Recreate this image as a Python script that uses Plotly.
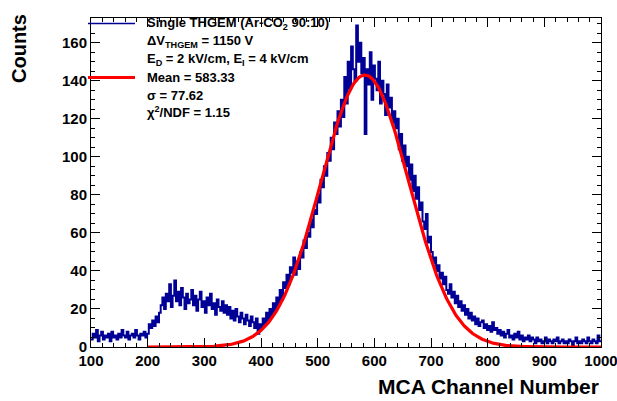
import plotly.graph_objects as go
import numpy as np

# ---- data ----
bin_start = 100
bin_width = 3
counts = [
    4, 7, 5, 9, 3, 6, 8, 4, 6, 5, 7, 3, 8, 5, 6, 4, 7, 5, 9, 6,
    5, 8, 4, 6, 7, 5, 9, 6, 4, 7, 6, 8, 5, 7, 12, 10, 14, 11, 16, 13,
    18, 22, 26, 20, 28, 24, 33, 21, 27, 35, 24, 29, 22, 31, 26, 20, 28, 23, 25, 30,
    22, 27, 19, 25, 29, 21, 24, 18, 26, 22, 28, 20, 23, 17, 25, 21, 19, 24, 18, 22,
    17, 21, 15, 19, 14, 20, 16, 13, 18, 15, 12, 17, 14, 11, 16, 13, 10, 15, 7, 12,
    10, 15, 12, 18, 14, 20, 16, 23, 19, 26, 22, 30, 25, 34, 31, 38, 33, 42, 39, 47,
    38, 45, 41, 50, 47, 56, 52, 60, 58, 67, 63, 72, 70, 80, 76, 88, 84, 95, 90, 102,
    98, 110, 104, 118, 112, 124, 116, 130, 121, 142, 128, 150, 136, 158, 146, 140, 169, 150, 160, 144,
    152, 112, 146, 138, 155, 130, 148, 141, 135, 150, 128, 140, 133, 122, 138, 126, 131, 118, 124, 115,
    120, 104, 112, 98, 106, 95, 100, 88, 96, 82, 90, 78, 84, 72, 76, 66, 62, 70, 55, 58,
    50, 44, 47, 40, 43, 36, 39, 33, 37, 30, 28, 33, 26, 29, 23, 27, 21, 24, 19, 22,
    17, 20, 15, 18, 14, 16, 12, 15, 11, 13, 14, 10, 12, 9, 11, 8, 13, 9, 10, 7,
    9, 6, 8, 5, 7, 9, 5, 6, 4, 7, 5, 8, 4, 6, 3, 5, 4, 6, 3, 5,
    4, 2, 5, 3, 4, 2, 3, 5, 2, 4, 3, 2, 4, 3, 5, 2, 3, 4, 2, 3,
    2, 4, 3, 1, 3, 5, 2, 3, 2, 4, 3, 2, 5, 3, 2, 4, 3, 2, 6, 3,
]
fit_mean = 583.33
fit_sigma = 77.62
fit_amp = 143.0
fit_range = [200, 1000]

legend_data_lines = [
    "Single THGEM (Ar-CO<sub>2</sub> 90:10)",
    "ΔV<sub>THGEM</sub> = 1150 V",
    "E<sub>D</sub> = 2 kV/cm, E<sub>I</sub> = 4 kV/cm",
]
legend_fit_lines = [
    "Mean = 583.33",
    "σ = 77.62",
    "χ<sup>2</sup>/NDF = 1.15",
]

# ---- build ----
edges = [bin_start + i * bin_width for i in range(len(counts) + 1)]
hx = edges
hy = counts + [counts[-1]]

fx = np.linspace(fit_range[0], fit_range[1], 400)
fy = fit_amp * np.exp(-0.5 * ((fx - fit_mean) / fit_sigma) ** 2)

BLUE = "rgb(0,0,150)"
FONT = "Liberation Sans"

fig = go.Figure()
fig.add_trace(go.Scatter(x=hx, y=hy, mode="lines", line=dict(color=BLUE, width=2, shape="hv"),
                         showlegend=False, hoverinfo="skip"))
fig.add_trace(go.Scatter(x=fx, y=fy, mode="lines", line=dict(color="red", width=3.2),
                         showlegend=False, hoverinfo="skip"))

L, R, T, B = 91, 16, 18, 54
W, H = 617, 401
pw, ph = W - L - R, H - T - B

def px2x(p):
    return (p - L) / pw

def py2y(p):
    return (H - B - p) / ph

axis_common = dict(showline=True, linecolor="black", linewidth=1, mirror="allticks",
                   ticks="inside", tickcolor="black", tickwidth=1, ticklen=9,
                   showgrid=False, zeroline=False, ticklabeloverflow="allow", automargin=False,
                   tickfont=dict(family=FONT, size=15, color="black", weight="bold"))

fig.update_layout(
    width=W, height=H,
    margin=dict(l=L, r=R, t=T, b=B, autoexpand=False),
    paper_bgcolor="white", plot_bgcolor="white",
    xaxis=dict(range=[100, 1000], tick0=100, dtick=100,
               minor=dict(ticks="inside", ticklen=4, tick0=100, dtick=20, tickcolor="black", showgrid=False),
               **axis_common),
    yaxis=dict(range=[0, 173], tick0=0, dtick=20,
               minor=dict(ticks="inside", ticklen=4, tick0=0, dtick=5, tickcolor="black", showgrid=False),
               **axis_common),
    showlegend=False,
)

ann = []
ann.append(dict(text="MCA Channel Number", x=1.0, y=py2y(386), xref="paper", yref="paper",
                xanchor="right", yanchor="middle", showarrow=False,
                font=dict(family=FONT, size=21, color="black", weight="bold")))
ann.append(dict(text="Counts", x=px2x(19), y=py2y(49), xref="paper", yref="paper", textangle=-90,
                xanchor="center", yanchor="middle", showarrow=False,
                font=dict(family=FONT, size=20, color="black", weight="bold")))

line_ys = [23.5, 41.5, 59.5, 77.5, 95.0, 112.0]
for txt, yy in zip(legend_data_lines + legend_fit_lines, line_ys):
    ann.append(dict(text=txt, x=px2x(145), y=py2y(yy), xref="paper", yref="paper",
                    xanchor="left", yanchor="middle", showarrow=False,
                    font=dict(family=FONT, size=13, color="black", weight="bold")))
fig.update_layout(annotations=ann)

fig.add_shape(type="line", xref="paper", yref="paper", x0=px2x(88), x1=px2x(135),
              y0=py2y(23.5), y1=py2y(23.5), line=dict(color=BLUE, width=1.6))
fig.add_shape(type="line", xref="paper", yref="paper", x0=px2x(88), x1=px2x(135),
              y0=py2y(77.5), y1=py2y(77.5), line=dict(color="red", width=3.2))

fig.write_html("out.html", config={"displayModeBar": False},
               post_script="document.body.style.margin='0px';")
